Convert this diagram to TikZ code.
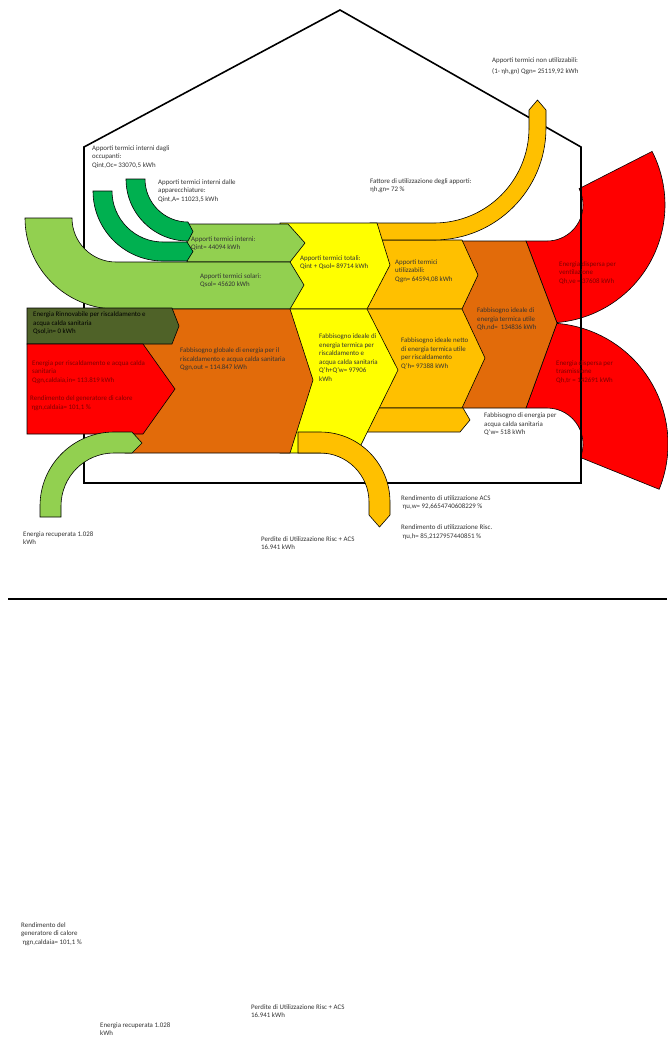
\documentclass[tikz,border=0pt]{standalone}
\usepackage{fontspec}
\setmainfont{Carlito}
\definecolor{verdescuro}{HTML}{00B050}
\definecolor{verdechiaro}{HTML}{92D050}
\definecolor{giallo}{HTML}{FFFF00}
\definecolor{ambra}{HTML}{FFC000}
\definecolor{arancio}{HTML}{E26B0A}
\definecolor{rosso}{HTML}{FF0000}
\definecolor{oliva}{HTML}{4F6228}
\definecolor{testo}{HTML}{333333}
\definecolor{testorosso}{HTML}{7F0000}
\tikzset{
	flusso/.style={draw=black,line width=0.6pt},
	casa/.style={draw=black,line width=1.6pt},
	etich/.style={anchor=north west,inner sep=0pt,align=left,text=testo,font=\fontsize{6.9}{8.5}\selectfont},
	etichr/.style={etich,text=testorosso},
}
\begin{document}
\begin{tikzpicture}[x=1pt,y=-1pt]
			\useasboundingbox (0,0) rectangle (667,1042);
			\fill[white] (0,0) rectangle (667,1042);
			\draw[flusso,fill=rosso] (526,241) -- (547,241) arc[start angle=90,end angle=-27,radius=36] -- (652.1,151.4) arc[start angle=-27,end angle=90,radius=118] -- (557,323) -- cycle;
			\draw[flusso,fill=rosso] (526,408) -- (547,408) arc[start angle=-90,end angle=22,radius=36] -- (659.2,489.3) arc[start angle=22,end angle=-90,radius=121] -- (557,323) -- cycle;
			\draw[casa] (84,147) -- (340,10) -- (581,147) -- (581,483) -- (84,483) -- cycle;
			\draw[flusso,fill=arancio] (455,241) -- (526,241) -- (557,323) -- (526,408) -- (455,408) -- cycle;
			\draw[flusso,fill=ambra] (370,240) -- (462,240) -- (478,275) -- (462,309) -- (360,309) -- cycle;
			\draw[flusso,fill=ambra] (360,309) -- (462,309) -- (485,358) -- (462,408) -- (360,408) -- cycle;
			\draw[flusso,fill=ambra] (360,408) -- (463,408) -- (470,420) -- (460,432) -- (355,432) -- cycle;
			\draw[flusso,fill=ambra] (370,240) -- (434,240) arc[start angle=90,end angle=0,radius=112] -- (546,110) -- (537.5,100) -- (529,110) -- (529,128) arc[start angle=0,end angle=90,radius=95] -- (370,223) -- cycle;
			\draw[flusso,fill=giallo] (280,223) -- (377,223) -- (390,265) -- (367,309) -- (280,309) -- cycle;
			\draw[flusso,fill=giallo] (280,309) -- (367,309) -- (398,370) -- (357,453) -- (280,453) -- cycle;
			\draw[flusso,fill=ambra] (298,432) -- (320,432) arc[start angle=-90,end angle=0,radius=70] -- (390,515) -- (379.5,527) -- (369,515) -- (369,502) arc[start angle=0,end angle=-90,radius=49] -- (298,453) -- cycle;
			\draw[flusso,fill=verdechiaro] (187,224) -- (288,224) -- (305,243) -- (290,262) -- (187,262) -- cycle;
			\draw[flusso,fill=verdechiaro] (25,218) arc[start angle=180,end angle=90,radius=91] -- (290,309) -- (304,285) -- (290,262) -- (116,262) arc[start angle=90,end angle=180,radius=44] -- cycle;
			\draw[flusso,fill=verdescuro] (126,179) arc[start angle=180,end angle=90,radius=62] -- (193,231.5) -- (188,222) arc[start angle=90,end angle=180,radius=43] -- cycle;
			\draw[flusso,fill=verdescuro] (93,191) arc[start angle=180,end angle=90,radius=70] -- (187,261) -- (193,251.5) -- (187,242) -- (163,242) arc[start angle=90,end angle=180,radius=51] -- cycle;
			\draw[flusso,fill=arancio] (130,309) -- (290,309) -- (313,380) -- (290,453) -- (125,453) -- cycle;
			\draw[flusso,fill=oliva] (27,308) -- (172,308) -- (179,326) -- (172,344) -- (27,344) -- cycle;
			\draw[flusso,fill=rosso] (27,344) -- (143,344) -- (175,389) -- (143,434) -- (27,434) -- cycle;
			\draw[flusso,fill=verdechiaro] (40,517) -- (40,506) arc[start angle=180,end angle=270,radius=74] -- (132,432) -- (142,443) -- (132,453) -- (114,453) arc[start angle=270,end angle=180,radius=53] -- (61,517) -- cycle;
			\draw[line width=1.2pt] (8,599) -- (667,599);
			\node[etich] (occup) at (92,145.5) {Apporti termici interni dagli\\occupanti:\\Qint,Oc= 33070,5 kWh};
			\node[etich] (appar) at (158,179.5) {Apporti termici interni dalle\\apparecchiature:\\Qint,A= 11023,5 kWh};
			\node[etich] (nonutil) at (492,58) {Apporti termici non utilizzabili:\\[2.5pt](1- ηh,gn) Qgn= 25119,92 kWh};
			\node[etich] (fattore) at (370,178.5) {Fattore di utilizzazione degli apporti:\\ηh,gn= 72 \%};
			\node[etich] (interni) at (191,236.5) {Apporti termici interni:\\Qint= 44094 kWh};
			\node[etich] (solari) at (200,273.5) {Apporti termici solari:\\Qsol= 45620 kWh};
			\node[etich] (totali) at (300,255.5) {Apporti termici totali:\\Qint + Qsol= 89714 kWh};
			\node[etich] (utiliz) at (395,259.5) {Apporti termici\\utilizzabili:\\Qgn= 64594,08 kWh};
			\node[etich] (idealetot) at (319,334) {Fabbisogno ideale di\\energia termica per\\riscaldamento e\\acqua calda sanitaria\\Q'h+Q'w= 97906\\kWh};
			\node[etich] (idealenetto) at (401,338) {Fabbisogno ideale netto\\di energia termica utile\\per riscaldamento\\Q'h= 97388 kWh};
			\node[etich] (qhnd) at (477,308) {Fabbisogno ideale di\\energia termica utile\\Qh,nd=\ \ 134836 kWh};
			\node[etichr] (ventil) at (559,261.5) {Energia dispersa per\\ventilazione\\Qh,ve = 37608 kWh};
			\node[etichr] (trasm) at (556,360.5) {Energia dispersa per\\trasmissione\\Qh,tr = 142691 kWh};
			\node[etich] (qw) at (484,413) {Fabbisogno di energia per\\acqua calda sanitaria\\Q'w= 518 kWh};
			\node[etich,text=black] (rinnov) at (33,312) {Energia Rinnovabile per riscaldamento e\\acqua calda sanitaria\\Qsol,in= 0 kWh};
			\node[etichr] (caldaia) at (32,360.5) {Energia per riscaldamento e acqua calda\\sanitaria\\Qgn,caldaia,in= 113.819 kWh};
			\node[etichr] (rendgen) at (30,396) {Rendimento del generatore di calore\\\hspace*{1.5pt}ηgn,caldaia= 101,1 \%};
			\node[etich] (globale) at (180,348) {Fabbisogno globale di energia per il\\riscaldamento e acqua calda sanitaria\\Qgn,out = 114.847 kWh};
			\node[etich] (recup) at (23,531.5) {Energia recuperata 1.028\\kWh};
			\node[etich] (perdite) at (261,536.5) {Perdite di Utilizzazione Risc + ACS\\16.941 kWh};
			\node[etich] (rendacs) at (401,495.5) {Rendimento di utilizzazione ACS\\\hspace*{1.5pt}ηu,w= 92,6654740608229 \%};
			\node[etich] (rendrisc) at (401,525) {Rendimento di utilizzazione Risc.\\\hspace*{1.5pt}ηu,h= 85,2127957440851 \%};
			\node[etich] (rendgenb) at (21,922) {Rendimento del\\generatore di calore\\\hspace*{1.5pt}ηgn,caldaia= 101,1 \%};
			\node[etich] (perditeb) at (251,1004) {Perdite di Utilizzazione Risc + ACS\\16.941 kWh};
			\node[etich] (recupb) at (100,1022.5) {Energia recuperata 1.028\\kWh};
		\end{tikzpicture}
\end{document}
